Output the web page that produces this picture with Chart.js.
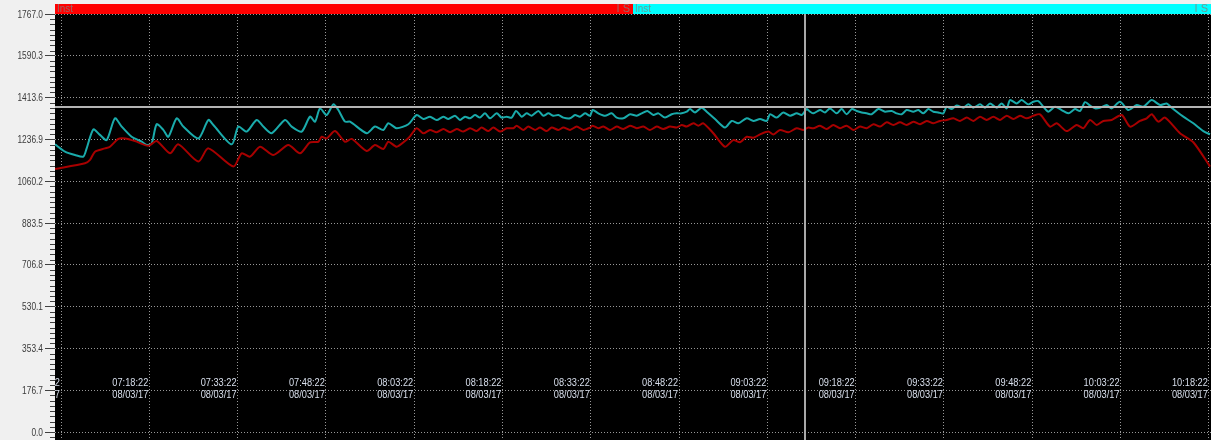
<!DOCTYPE html>
<html>
<head>
<meta charset="utf-8">
<title>Inst trend</title>
<script src="https://cdn.jsdelivr.net/npm/chart.js@4.4.1/dist/chart.umd.min.js"></script>
<style>
  html, body { margin: 0; padding: 0; background: #f0f0f0; }
  #wrap { position: relative; width: 1211px; height: 440px; }
</style>
</head>
<body>
<div id="wrap"><canvas id="trend"></canvas></div>
<script>
// Sample times are minutes after 07:03:22 on 08/03/17.
const cyanMinutes = [
  -1.02, 0.68, 2.38, 3.79, 4.36, 5.49, 6.62, 7.76, 9.17, 10.31, 12.0, 13.7, 14.55, 15.4, 16.25,
  17.38, 18.23, 19.65, 20.78, 23.33, 25.03, 25.88, 28.99, 30.13, 31.54, 33.24, 34.37, 35.79, 38.05,
  39.19, 40.89, 42.3, 43.15, 44.0, 45.13, 46.27, 47.12, 48.25, 49.1, 51.93, 53.34, 54.76, 55.61,
  57.02, 59.01,
  60.42, 61.56, 62.69, 63.82, 64.95, 65.8, 66.93, 67.78, 68.63, 69.48, 70.33, 71.18, 72.03, 72.88,
  74.01, 74.86, 75.71, 76.56, 77.3, 78.26, 79.11, 79.96, 81.09, 81.94, 82.79, 83.64, 84.49, 85.34,
  86.47, 87.32, 88.17, 89.02, 89.87, 90.32, 91.29, 92.42, 93.55, 94.4, 95.53, 96.67, 97.8, 98.65,
  99.61, 100.63, 101.48, 102.61, 103.74, 104.59, 105.44, 106.29, 106.86, 107.71, 108.84, 109.69,
  111.1, 112.8, 113.94, 115.07, 116.49, 117.62, 118.75, 119.88, 120.45, 121.58, 122.71, 123.84,
  124.98, 125.83, 126.68, 127.25,
  127.81, 128.94, 129.79, 130.64, 131.77, 132.62, 133.47, 134.32, 135.17, 136.02, 136.87, 137.71,
  138.85, 139.98, 141.11, 141.96, 142.81, 143.66, 144.79, 145.64, 146.49, 147.34, 148.19, 149.04,
  149.89, 150.46, 151.31, 152.16, 153.29, 154.14, 154.99, 156.12, 156.97, 157.82, 158.95, 159.8,
  160.65, 161.22, 162.35, 163.19, 164.33, 165.18, 166.03, 166.88, 167.73, 168.86, 169.99, 171.13,
  172.26, 173.11, 173.96, 174.81, 175.66, 176.51, 177.64, 178.49, 179.9, 181.32, 182.74, 183.87,
  185.28, 186.7, 187.83, 188.68, 190.66, 192.36, 194.06, 195.19
];
const cyanValues = [
  1216, 1185, 1171, 1164, 1199, 1279, 1256, 1234, 1326, 1291, 1248, 1227, 1213, 1220, 1301,
  1277, 1248, 1326, 1291, 1241, 1319, 1298, 1216, 1291, 1270, 1319, 1291, 1263, 1319,
  1291, 1270, 1333, 1312, 1368, 1340, 1385, 1361, 1312, 1312, 1263, 1291, 1277, 1305,
  1284, 1301,
  1340, 1323, 1333, 1319, 1333, 1323, 1337, 1319, 1333, 1326, 1340, 1329, 1347, 1326,
  1347, 1329, 1333, 1329, 1357, 1333, 1347, 1337, 1357, 1337, 1347, 1337, 1340, 1329,
  1326, 1340, 1333, 1347, 1337, 1361, 1347, 1337, 1347, 1329, 1326, 1343, 1337, 1347,
  1357, 1340, 1347, 1329, 1343, 1347, 1347, 1354, 1365, 1351, 1371, 1354,
  1323, 1287, 1315, 1305, 1326, 1315, 1323, 1315, 1343, 1329, 1351, 1337,
  1347, 1340, 1365, 1354,
  1347, 1361, 1351, 1368, 1347, 1365, 1343, 1365, 1357, 1351, 1347, 1343,
  1365, 1354, 1357, 1347, 1343, 1361, 1354, 1361, 1347, 1365, 1354, 1351,
  1347, 1375, 1365, 1380, 1371, 1385, 1371, 1385, 1371, 1389, 1371, 1389,
  1368, 1403, 1389, 1403, 1385, 1396, 1399, 1375, 1354, 1375, 1361, 1347,
  1365, 1357, 1394, 1380, 1368, 1371, 1382, 1368, 1396, 1361, 1382, 1375,
  1403, 1382, 1389, 1371, 1333, 1305, 1272, 1258
];

const redMinutes = [
  -1.02, 4.08, 4.93, 5.77, 7.47, 8.32, 9.74, 10.87, 12.57, 14.84, 16.25, 18.52, 19.93, 23.33,
  25.03, 29.28, 30.69, 32.11, 33.81, 36.07, 38.62, 40.6, 42.3, 43.72, 44.28, 45.13, 46.55, 48.25,
  49.38, 51.93, 53.34, 54.76, 55.61, 57.02, 58.44, 59.29,
  60.42, 61.56, 62.69, 63.82, 64.95, 66.09, 67.22, 68.35, 69.48, 70.62, 71.46, 72.6, 73.45, 74.58,
  75.71, 76.85, 77.41, 78.54, 79.39, 80.53, 81.38, 82.51, 83.36, 84.49, 85.34, 86.47, 87.61, 88.74,
  89.87, 90.32, 91.29, 92.13, 93.27, 94.4, 95.53, 96.67, 97.8, 98.93, 100.06, 101.2, 102.33, 103.46,
  104.59, 105.44, 106.29, 107.43, 108.27, 109.12, 110.82, 112.8, 114.22, 115.35, 116.49, 117.62,
  118.75, 120.17, 121.02, 122.15, 123.56, 124.98, 126.11, 126.96,
  127.81, 128.94, 130.07, 131.2, 132.34, 133.47, 134.6, 135.73, 136.87, 138.0, 139.13, 140.26,
  141.4, 142.53, 143.66, 144.79, 145.93, 147.06, 148.19, 149.32, 150.46, 151.59, 152.72, 153.86,
  154.99, 156.12, 157.25, 158.39, 159.52, 160.65, 161.78, 162.92, 164.05, 165.18, 166.31, 168.01,
  169.15, 170.84, 172.54, 173.68, 174.81, 175.94, 177.07, 178.49, 180.19, 181.6, 183.3, 184.44,
  185.28, 186.41, 187.55, 190.1, 192.36, 195.19
];
const redValues = [
  1112, 1136, 1150, 1185, 1199, 1206, 1239, 1241, 1230, 1210, 1230, 1178, 1216, 1143,
  1199, 1122, 1178, 1164, 1206, 1171, 1213, 1178, 1224, 1227, 1248, 1241, 1272, 1227,
  1239, 1188, 1213, 1196, 1227, 1206, 1230, 1250,
  1284, 1263, 1277, 1267, 1281, 1267, 1281, 1270, 1284, 1272, 1287, 1272, 1287, 1270,
  1284, 1284, 1295, 1277, 1291, 1277, 1287, 1272, 1287, 1277, 1287, 1277, 1291, 1277,
  1287, 1295, 1284, 1291, 1277, 1291, 1281, 1295, 1284, 1291, 1277, 1291, 1281, 1291,
  1287, 1298, 1291, 1305, 1295, 1305, 1263, 1206, 1234, 1225, 1248, 1244,
  1258, 1270, 1258, 1277, 1267, 1284, 1277, 1287,
  1284, 1295, 1281, 1298, 1284, 1295, 1277, 1291, 1284, 1301, 1291, 1309,
  1298, 1309, 1298, 1312, 1301, 1315, 1305, 1315, 1319, 1326, 1315, 1329,
  1315, 1333, 1319, 1333, 1319, 1337, 1323, 1337, 1326, 1337, 1343, 1291,
  1305, 1272, 1298, 1284, 1319, 1298, 1315, 1319, 1340, 1291, 1315, 1326,
  1343, 1312, 1329, 1263, 1225, 1122
];

const yTicks = [0.0, 176.7, 353.4, 530.1, 706.8, 883.5, 1060.2, 1236.9, 1413.6, 1590.3, 1767.0];
const xTickTimes = ['07:03:22', '07:18:22', '07:33:22', '07:48:22', '08:03:22', '08:18:22', '08:33:22',
  '08:48:22', '09:03:22', '09:18:22', '09:33:22', '09:48:22', '10:03:22', '10:18:22'];
const xTickDate = '08/03/17';
const startTime = '07:03:22';
const limitValue = 1373;        // horizontal alarm/limit line
const cursorTime = '09:09:46';  // trend cursor position
const penNames = ['Inst', 'Inst'];
const penScales = ['I S', 'I S'];
const penColors = ['#ff0000', '#00ffff'];

function minutesOf(t) {
  const [h, m, s] = t.split(':').map(Number);
  return h * 60 + m + s / 60;
}
const t0 = minutesOf(startTime);
const xTickMinutes = xTickTimes.map(t => minutesOf(t) - t0);
const cursorMinute = minutesOf(cursorTime) - t0;

const FONT = '"Liberation Sans", Arial, sans-serif';

const toPoints = (xs, ys) => xs.map((x, i) => ({ x, y: ys[i] }));

// Narrow text: the trend display uses a condensed face, so squeeze horizontally.
function narrowText(ctx, text, x, y, squeeze) {
  ctx.save();
  ctx.translate(x, y);
  ctx.scale(squeeze, 1);
  ctx.fillText(text, 0, 0);
  ctx.restore();
}

const trendFrame = {
  id: 'trendFrame',
  beforeDraw(chart) {
    const { ctx, chartArea: a } = chart;
    ctx.save();
    ctx.fillStyle = '#000000';
    ctx.fillRect(a.left, a.top, a.right - a.left, a.bottom - a.top);
    // pen header strips above the plot
    const mid = Math.round((a.left + a.right) / 2);
    const spans = [[a.left, mid], [mid, a.right]];
    ctx.font = '11px ' + FONT;
    ctx.textBaseline = 'top';
    spans.forEach(([l, r], i) => {
      ctx.fillStyle = penColors[i];
      ctx.fillRect(l, a.top - 10, r - l, 10);
      ctx.fillStyle = 'rgba(128,128,128,0.8)';
      ctx.textAlign = 'left';
      narrowText(ctx, penNames[i], l + 2, a.top - 11, 0.9);
      ctx.textAlign = 'right';
      narrowText(ctx, penScales[i], r - 3, a.top - 11, 1.0);
    });
    ctx.restore();
  },
  afterDatasetsDraw(chart) {
    const { ctx, chartArea: a, scales } = chart;
    const xs = scales.x, ys = scales.y;
    ctx.save();
    ctx.beginPath();
    ctx.rect(a.left, a.top, a.right - a.left, a.bottom - a.top);
    ctx.clip();
    // limit line
    const ly = Math.round(ys.getPixelForValue(limitValue));
    ctx.strokeStyle = '#b4b4b4';
    ctx.lineWidth = 2;
    ctx.beginPath();
    ctx.moveTo(a.left, ly);
    ctx.lineTo(a.right, ly);
    ctx.stroke();
    // cursor
    const cx = Math.round(xs.getPixelForValue(cursorMinute));
    ctx.strokeStyle = '#a8a8a8';
    ctx.beginPath();
    ctx.moveTo(cx, a.top);
    ctx.lineTo(cx, a.bottom);
    ctx.stroke();
    // time labels inside the plot, right-aligned on their grid lines
    const yc = ys.getPixelForValue(yTicks[1]);
    ctx.font = '11px ' + FONT;
    ctx.fillStyle = '#d8dfec';
    ctx.textAlign = 'right';
    ctx.textBaseline = 'middle';
    xTickMinutes.forEach((m, i) => {
      const px = xs.getPixelForValue(m) - 1;
      narrowText(ctx, xTickTimes[i], px, yc - 7, 0.84);
      narrowText(ctx, xTickDate, px, yc + 5, 0.84);
    });
    ctx.restore();
  },
  afterDraw(chart) {
    const { ctx, chartArea: a, scales } = chart;
    const ys = scales.y;
    ctx.save();
    // minor ticks, eight divisions per major step
    const step = (yTicks[1] - yTicks[0]) / 8;
    ctx.strokeStyle = '#404040';
    ctx.lineWidth = 1;
    ctx.beginPath();
    const first = Math.ceil(ys.min / step);
    const last = Math.floor(ys.max / step + 1e-6);
    for (let k = first; k <= last; k++) {
      if (k % 8 === 0) continue;
      const py = Math.round(ys.getPixelForValue(k * step)) + 0.5;
      ctx.moveTo(a.left - 5, py);
      ctx.lineTo(a.left, py);
    }
    ctx.stroke();
    // value labels
    ctx.font = '11px ' + FONT;
    ctx.fillStyle = '#3a3a3a';
    ctx.textAlign = 'right';
    ctx.textBaseline = 'middle';
    yTicks.forEach(v => {
      narrowText(ctx, v.toFixed(1), a.left - 12, ys.getPixelForValue(v) + 0.5, 0.76);
    });
    ctx.restore();
  }
};

new Chart(document.getElementById('trend'), {
  type: 'line',
  data: {
    datasets: [
      {
        label: 'Inst (red pen)',
        data: toPoints(redMinutes, redValues),
        borderColor: '#a80000',
        borderWidth: 2,
        pointRadius: 0,
        tension: 0.25,
        order: 1
      },
      {
        label: 'Inst (cyan pen)',
        data: toPoints(cyanMinutes, cyanValues),
        borderColor: '#1aabab',
        borderWidth: 2,
        pointRadius: 0,
        tension: 0.25,
        order: 2
      }
    ]
  },
  options: {
    responsive: true,
    maintainAspectRatio: false,
    animation: false,
    events: [],
    layout: { padding: { top: 14, left: 0, right: 0, bottom: 0 } },
    plugins: { legend: { display: false }, tooltip: { enabled: false } },
    scales: {
      x: {
        type: 'linear',
        min: -1.02,
        max: 195.36,
        afterBuildTicks: s => { s.ticks = xTickMinutes.map(v => ({ value: v })); },
        afterFit: s => { s.height = 0; s.paddingLeft = 0; s.paddingRight = 0; },
        ticks: { display: false },
        grid: { color: '#989898', lineWidth: 1, drawTicks: false },
        border: { display: false, dash: [1, 2] }
      },
      y: {
        type: 'linear',
        min: -33.8,
        max: 1767.0,
        afterBuildTicks: s => { s.ticks = yTicks.map(v => ({ value: v })); },
        afterFit: s => { s.width = 55; s.paddingTop = 0; s.paddingBottom = 0; },
        ticks: { display: false },
        grid: {
          color: '#989898',
          lineWidth: 1,
          drawTicks: true,
          tickLength: 10,
          tickColor: '#404040',
          tickBorderDash: []
        },
        border: { display: false, dash: [1, 2] }
      }
    }
  },
  plugins: [trendFrame]
});
</script>
</body>
</html>
